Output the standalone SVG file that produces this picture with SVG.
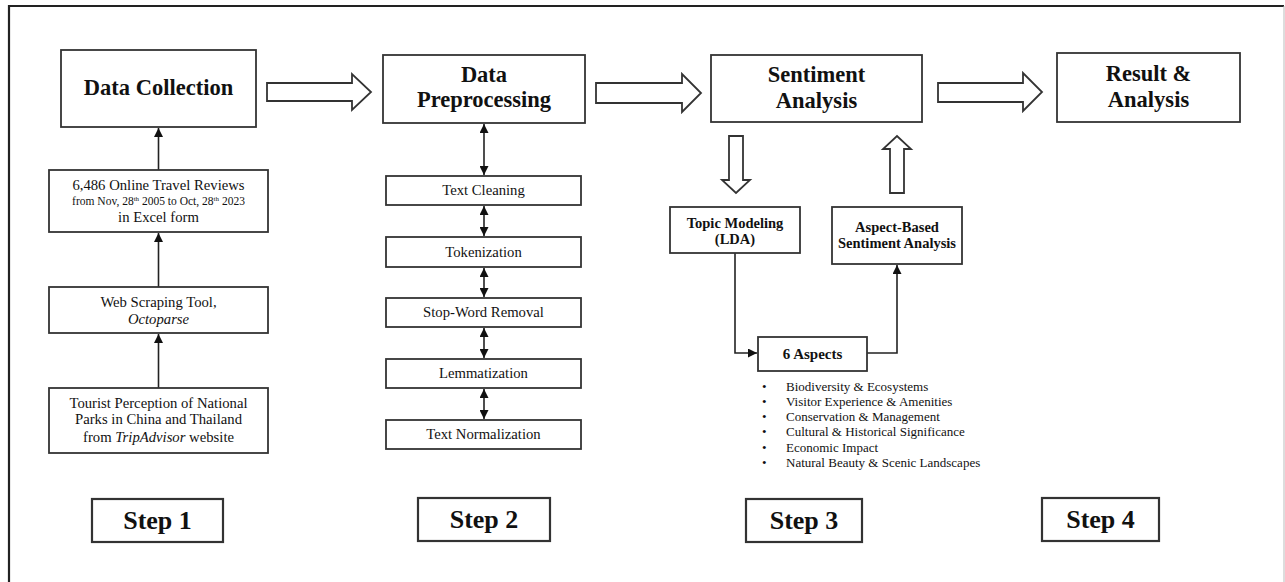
<svg xmlns="http://www.w3.org/2000/svg" width="1285" height="582" viewBox="0 0 1285 582">
<style>
.box{fill:#fff;stroke:#333;stroke-width:1.8}
.step{fill:#fff;stroke:#333;stroke-width:2.2}
.blk{fill:#fff;stroke:#333;stroke-width:1.8;stroke-linejoin:miter}
.ln{fill:none;stroke:#222;stroke-width:1.6}
text{font-family:"Liberation Serif","Times New Roman",serif;fill:#111;text-anchor:middle}
.t{font-size:22.5px;font-weight:bold}
.s{font-size:26px;font-weight:bold}
.r{font-size:14.7px}
.sm{font-size:11.5px}
.b{font-size:14.5px;font-weight:bold}
.bl{font-size:13px;text-anchor:start}
</style>
<defs>
<marker id="ah" viewBox="0 0 10 10" refX="10" refY="5" markerWidth="9" markerHeight="9" markerUnits="userSpaceOnUse" orient="auto-start-reverse">
<path d="M0,0 L10,5 L0,10 Z" fill="#111"/>
</marker>
</defs>
<rect width="1285" height="582" fill="#fff"/>
<g id="frame">
<line x1="9" y1="6" x2="1284" y2="6" stroke="#222" stroke-width="2.2"/>
<line x1="9" y1="5" x2="9" y2="582" stroke="#222" stroke-width="2.2"/>
<line x1="1284" y1="6" x2="1284" y2="582" stroke="#bbb" stroke-width="1"/>
</g>
<g id="connectors">
<path class="ln" d="M158.5,170 V128" marker-end="url(#ah)"/>
<path class="ln" d="M158.5,287 V233" marker-end="url(#ah)"/>
<path class="ln" d="M158.5,388 V334" marker-end="url(#ah)"/>
<path class="ln" d="M484,124 V175" marker-start="url(#ah)" marker-end="url(#ah)"/>
<path class="ln" d="M484,206 V236" marker-start="url(#ah)" marker-end="url(#ah)"/>
<path class="ln" d="M484,268 V297" marker-start="url(#ah)" marker-end="url(#ah)"/>
<path class="ln" d="M484,328 V358" marker-start="url(#ah)" marker-end="url(#ah)"/>
<path class="ln" d="M484,389 V419" marker-start="url(#ah)" marker-end="url(#ah)"/>
<path class="ln" d="M735,253 V353 H757" marker-end="url(#ah)"/>
<path class="ln" d="M867,353 H897 V265" marker-end="url(#ah)"/>
<polygon class="blk" points="267,83 352,83 352,74 371,92 352,110 352,101 267,101"/>
<polygon class="blk" points="596,83 682,83 682,74 701,93 682,112 682,103 596,103"/>
<polygon class="blk" points="938,83 1023,83 1023,73 1042,92 1023,111 1023,102 938,102"/>
<polygon class="blk" points="729,136 743,136 743,180 750,180 736,193 722,180 729,180"/>
<polygon class="blk" points="890,193 904,193 904,149 911,149 897,136 883,149 890,149"/>
</g>
<g id="data-collection">
<rect class="box" x="61" y="50" width="195" height="77"/>
<text class="t" x="158.5" y="95">Data Collection</text>
</g>
<g id="reviews">
<rect class="box" x="49" y="170" width="219" height="62"/>
<text class="r" x="158.5" y="190">6,486 Online Travel Reviews</text>
<text class="sm" x="158.5" y="205">from Nov, 28<tspan font-size="7" dy="-4">th</tspan><tspan dy="4"> 2005 to Oct, 28</tspan><tspan font-size="7" dy="-4">th</tspan><tspan dy="4"> 2023</tspan></text>
<text class="r" x="158.5" y="222">in Excel form</text>
</g>
<g id="web-scraping">
<rect class="box" x="49" y="287" width="219" height="46"/>
<text class="r" x="158.5" y="307">Web Scraping Tool,</text>
<text class="r" x="158.5" y="324" font-style="italic">Octoparse</text>
</g>
<g id="tourist">
<rect class="box" x="49" y="388" width="219" height="65"/>
<text class="r" x="158.5" y="408">Tourist Perception of National</text>
<text class="r" x="158.5" y="424">Parks in China and Thailand</text>
<text class="r" x="158.5" y="442">from <tspan font-style="italic">TripAdvisor</tspan> website</text>
</g>
<g id="step1">
<rect class="step" x="92" y="499" width="131" height="43"/>
<text class="s" x="157.5" y="529">Step 1</text>
</g>
<g id="data-preprocessing">
<rect class="box" x="383" y="55" width="202" height="68"/>
<text class="t" x="484" y="82">Data</text>
<text class="t" x="484" y="107">Preprocessing</text>
</g>
<g id="text-cleaning">
<rect class="box" x="386" y="176" width="195" height="29"/>
<text class="r" x="483.5" y="195">Text Cleaning</text>
</g>
<g id="tokenization">
<rect class="box" x="386" y="237" width="195" height="30"/>
<text class="r" x="483.5" y="256.5">Tokenization</text>
</g>
<g id="stop-word">
<rect class="box" x="386" y="298" width="195" height="29"/>
<text class="r" x="483.5" y="317">Stop-Word Removal</text>
</g>
<g id="lemmatization">
<rect class="box" x="386" y="359" width="195" height="29"/>
<text class="r" x="483.5" y="378">Lemmatization</text>
</g>
<g id="text-normalization">
<rect class="box" x="386" y="420" width="195" height="29"/>
<text class="r" x="483.5" y="439">Text Normalization</text>
</g>
<g id="step2">
<rect class="step" x="418" y="498" width="132" height="43"/>
<text class="s" x="484" y="528">Step 2</text>
</g>
<g id="sentiment-analysis">
<rect class="box" x="711" y="55" width="211" height="67"/>
<text class="t" x="816.5" y="82">Sentiment</text>
<text class="t" x="816.5" y="108">Analysis</text>
</g>
<g id="topic-modeling">
<rect class="box" x="670" y="207" width="130" height="46"/>
<text class="b" x="735" y="228">Topic Modeling</text>
<text class="b" x="735" y="244">(LDA)</text>
</g>
<g id="absa">
<rect class="box" x="832" y="207" width="130" height="57"/>
<text class="b" x="897" y="232">Aspect-Based</text>
<text class="b" x="897" y="248">Sentiment Analysis</text>
</g>
<g id="six-aspects">
<rect class="box" x="758" y="337" width="109" height="34"/>
<text class="b" x="812.5" y="359" style="font-size:15px">6 Aspects</text>
<text class="bl" x="762" y="391">•</text><text class="bl" x="786" y="391">Biodiversity &amp; Ecosystems</text>
<text class="bl" x="762" y="406">•</text><text class="bl" x="786" y="406">Visitor Experience &amp; Amenities</text>
<text class="bl" x="762" y="421">•</text><text class="bl" x="786" y="421">Conservation &amp; Management</text>
<text class="bl" x="762" y="436">•</text><text class="bl" x="786" y="436">Cultural &amp; Historical Significance</text>
<text class="bl" x="762" y="452">•</text><text class="bl" x="786" y="452">Economic Impact</text>
<text class="bl" x="762" y="467">•</text><text class="bl" x="786" y="467">Natural Beauty &amp; Scenic Landscapes</text>
</g>
<g id="step3">
<rect class="step" x="746" y="499" width="116" height="43"/>
<text class="s" x="804" y="529">Step 3</text>
</g>
<g id="result-analysis">
<rect class="box" x="1057" y="53" width="183" height="69"/>
<text class="t" x="1148.5" y="81">Result &amp;</text>
<text class="t" x="1148.5" y="107">Analysis</text>
</g>
<g id="step4">
<rect class="step" x="1042" y="498" width="117" height="43"/>
<text class="s" x="1100.5" y="528">Step 4</text>
</g>
</svg>
